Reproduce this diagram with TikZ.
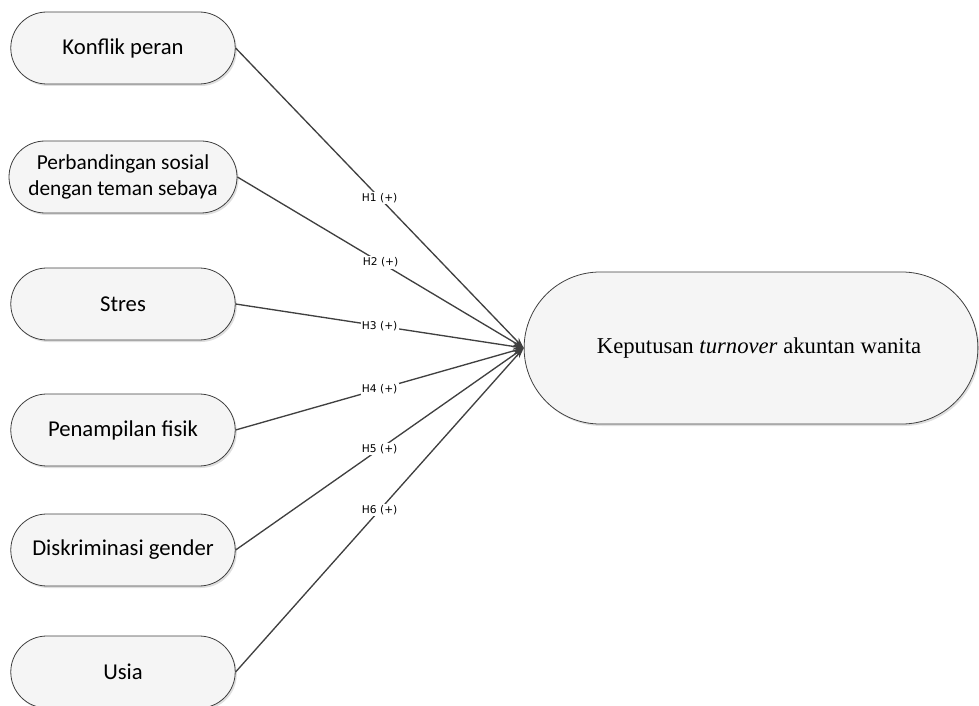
\documentclass[tikz,border=0pt]{standalone}
\usepackage{fontspec}
\setmainfont{Liberation Serif}
\setsansfont{Carlito}
\newfontfamily\hypfont{DejaVu Sans}
\usepackage{tikz}
\usetikzlibrary{shapes.misc, arrows.meta, shadows}
\definecolor{lineclr}{RGB}{64, 64, 64}
\definecolor{boxfill}{RGB}{245, 245, 245}
\tikzstyle{varbox} = [draw=lineclr, fill=boxfill, rounded rectangle, line width=0.6pt,
                      drop shadow={shadow xshift=1.2pt, shadow yshift=-1.5pt, opacity=0.25},
                      minimum width=175pt, minimum height=54pt, font=\sffamily\fontsize{17}{19}\selectfont, align=center]
\tikzstyle{outbox} = [varbox, minimum width=347pt, minimum height=114pt,
                      font=\rmfamily\fontsize{17}{19}\selectfont]
\tikzstyle{hyp} = [fill=white, inner sep=1pt, font=\hypfont\fontsize{8}{9}\selectfont, text=black]

\begin{document}
\begin{tikzpicture}[x=0.75pt, y=0.75pt]
                    \useasboundingbox (0, 0) rectangle (979, -706);
                    \node[varbox, inner xsep=2pt, font=\sffamily\fontsize{16}{19}\selectfont] (banding) at (123, -177) {Perbandingan sosial\\dengan teman sebaya};
                    \node[varbox] (konflik) at (123, -48) {Konflik peran};
                    \node[varbox] (stres) at (123, -304) {Stres};
                    \node[varbox] (fisik) at (123, -430) {Penampilan fisik};
                    \node[varbox] (gender) at (123, -550) {Diskriminasi gender};
                    \node[varbox] (usia) at (123, -672) {Usia};
                    \node[outbox] (turnover) at (751, -348) {\hspace*{12pt}Keputusan \textit{turnover} akuntan wanita};
                    \draw[-{Stealth[length=8pt, width=5pt]}, lineclr, line width=1pt] (konflik.east) -- node[hyp] {H1 (+)} (turnover.west);
                    \draw[-{Stealth[length=8pt, width=5pt]}, lineclr, line width=1pt] (banding.east) -- node[hyp] {H2 (+)} (turnover.west);
                    \draw[-{Stealth[length=8pt, width=5pt]}, lineclr, line width=1pt] (stres.east) -- node[hyp] {H3 (+)} (turnover.west);
                    \draw[-{Stealth[length=8pt, width=5pt]}, lineclr, line width=1pt] (fisik.east) -- node[hyp] {H4 (+)} (turnover.west);
                    \draw[-{Stealth[length=8pt, width=5pt]}, lineclr, line width=1pt] (gender.east) -- node[hyp] {H5 (+)} (turnover.west);
                    \draw[-{Stealth[length=8pt, width=5pt]}, lineclr, line width=1pt] (usia.east) -- node[hyp] {H6 (+)} (turnover.west);
                \end{tikzpicture}
\end{document}
